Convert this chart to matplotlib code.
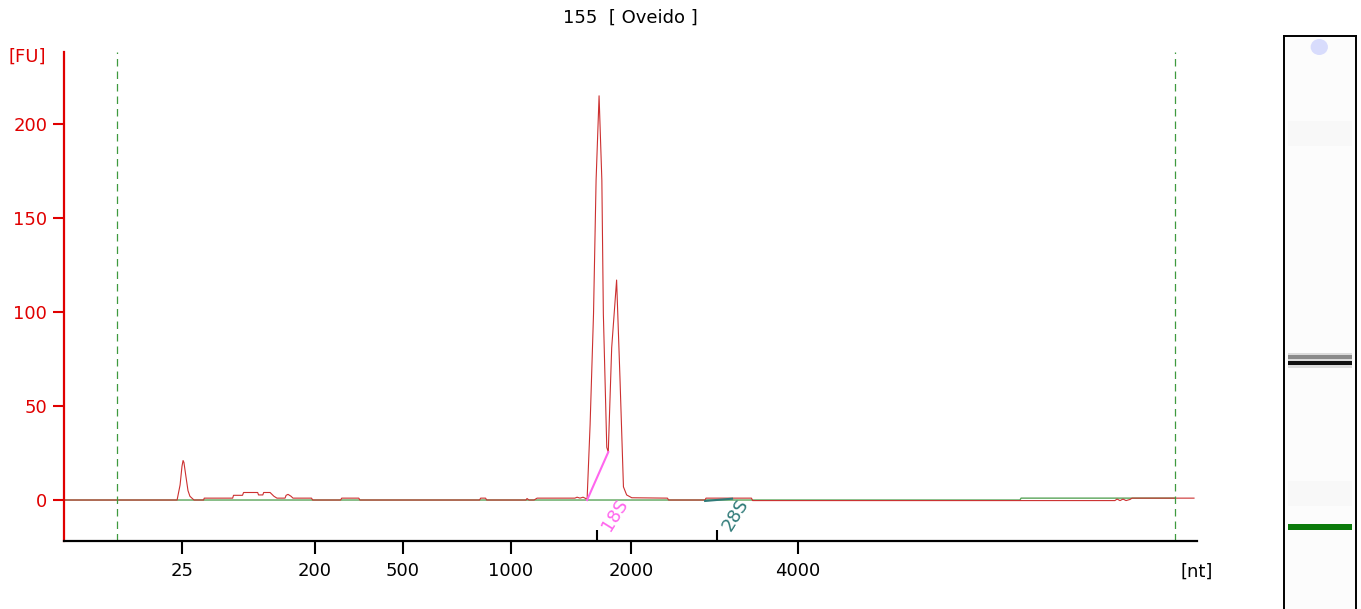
import matplotlib.pyplot as plt
from matplotlib.patches import Ellipse

plt.rcParams['font.family'] = ['DejaVu Sans']

# electropherogram trace: migration time [s] vs fluorescence [FU]
t = [18.00, 23.29, 23.43, 23.52, 23.57, 23.61, 23.71, 23.80, 23.89, 24.08,
     24.53, 24.56, 25.89, 25.93, 26.35, 26.40, 27.06, 27.10, 27.30, 27.34,
     27.64, 27.82, 27.96, 28.34, 28.39, 28.48, 28.62, 28.71, 29.58, 29.63,
     30.94, 30.99, 31.79, 31.84, 37.44, 37.49, 37.72, 37.77, 39.61, 39.66,
     39.75, 39.99, 40.13, 41.90, 42.00, 42.14, 42.28, 42.37, 42.47, 42.61,
     42.77, 42.89, 43.03, 43.16, 43.23, 43.39, 43.46, 43.62, 43.85, 44.01,
     44.17, 44.32, 44.56, 46.23, 46.28, 47.99, 48.03, 50.16, 50.21, 67.16,
     67.26, 67.40, 67.54, 67.68, 67.87, 67.96, 70.86]
fu = [0, 0, 8, 18, 21, 20, 12, 5, 2, 0,
      0, 1, 1, 2.5, 2.5, 4, 4, 2.7, 2.7, 4,
      4, 2, 1, 1, 2.5, 3, 2, 1, 1, 0,
      0, 1, 1, 0, 0, 1, 1, 0, 0, 0.8,
      0, 0, 1, 1, 1.5, 1, 1.5, 1, 0.5, 40,
      99, 170, 215, 170, 99, 28, 25.5, 81, 117, 64,
      7, 2.7, 1.2, 1, 0, 0, 1, 1, -0.3, -0.3,
      0.5, -0.3, 0.5, -0.3, 0.3, 1, 1]

# baseline
base_t = [18.00, 62.72, 62.77, 69.97]
base_fu = [0, 0, 1, 1]

# peak baselines for 18S and 28S
s18_t = [42.47, 43.46]
s18_fu = [0, 25.5]
s28_t = [47.99, 49.25]
s28_fu = [-0.5, 0.7]

# ladder
ladder_nt = [25, 200, 500, 1000, 2000, 4000]
ladder_t = [23.52, 29.74, 33.86, 38.91, 44.52, 52.34]
marker_t = [42.93, 48.55]
marker_lbl = ['18S', '28S']
marker_col = ['#ff66ee', '#2f7a78']
window_t = [20.48, 69.97]

# gel lane (pixels from lane top)
gel_bands = [321, 327]
gel_band_col = ['#8a8a8a', '#111111']
gel_marker = 491
gel_upper = 11

fig = plt.figure(figsize=(13.61, 6.09), dpi=100)
ax = fig.add_axes([64/1361, 1-541/609, 1133/1361, 489/609])

ax.plot(base_t, base_fu, color='#5aa55a', lw=1.0)
ax.plot(t, fu, color='#cc3030', lw=0.8)
ax.plot(s18_t, s18_fu, color=marker_col[0], lw=1.5)
ax.plot(s28_t, s28_fu, color=marker_col[1], lw=1.5)
for w in window_t:
    ax.axvline(w, color='#3f9a3f', lw=0.9, ls=(0, (6, 4)))

ax.set_xlim(18, 71)
ax.set_ylim(-21.8, 238.3)

ax.spines['top'].set_visible(False)
ax.spines['right'].set_visible(False)
ax.spines['left'].set_color('#e00000')
ax.spines['left'].set_linewidth(1.6)
ax.spines['bottom'].set_linewidth(1.6)

ax.set_yticks([0, 50, 100, 150, 200])
ax.tick_params(axis='y', colors='#e00000', labelcolor='#e00000', length=8,
               width=1.5, labelsize=13, pad=4)
ax.set_xticks(ladder_t)
ax.set_xticklabels([str(n) for n in ladder_nt])
ax.set_xticks(marker_t, minor=True)
ax.tick_params(axis='x', which='major', length=9, width=1.5, labelsize=13, pad=6)
ax.tick_params(axis='x', which='minor', direction='in', length=8, width=1.5)

for mt, lbl, c in zip(marker_t, marker_lbl, marker_col):
    ax.text(mt + 0.85, -8, lbl, color=c, fontsize=13, rotation=58,
            ha='center', va='center')

fig.text(630/1361, 1-18/609, '155  [ Oveido ]', ha='center', va='center', fontsize=13)
fig.text(27/1361, 1-57/609, '[FU]', ha='center', va='center', fontsize=13, color='#e00000')
fig.text(1197/1361, 1-572/609, '[nt]', ha='center', va='center', fontsize=13)

# gel lane
gx = fig.add_axes([1284/1361, 0, 72/1361, 573/609])
gx.set_xlim(0, 1)
gx.set_ylim(573, 0)
gx.set_facecolor('#fcfcfc')
gx.set_xticks([])
gx.set_yticks([])
for s in ['top', 'left', 'right']:
    gx.spines[s].set_linewidth(1.4)
gx.spines['bottom'].set_visible(False)
gx.axhspan(85, 110, 0.06, 0.94, color='#f8f8f8', lw=0)
gx.axhspan(445, 470, 0.06, 0.94, color='#f8f8f8', lw=0)
gx.axhspan(317, 332, 0.06, 0.94, color='#dcdcdc', lw=0)
for b, c in zip(gel_bands, gel_band_col):
    gx.axhspan(b - 1.6, b + 1.6, 0.06, 0.94, color=c, lw=0)
gx.axhspan(gel_marker - 2.8, gel_marker + 2.8, 0.06, 0.94, color='#0a7a0a', lw=0)
gx.add_patch(Ellipse((0.49, gel_upper), 0.24, 16, color='#d8dcfc', lw=0))

fig.savefig('out.png', dpi=100)
